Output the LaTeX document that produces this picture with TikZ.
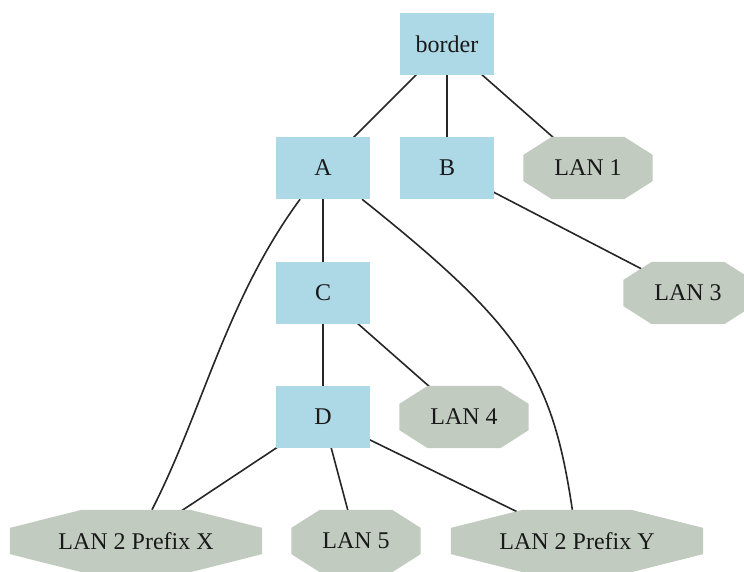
\documentclass[tikz,border=0pt]{standalone}
\usepackage{fontspec}
\setmainfont{Liberation Serif}
\usetikzlibrary{calc}
\definecolor{boxblue}{RGB}{173,216,230}
\definecolor{langray}{RGB}{193,203,192}
\pgfdeclarelayer{edges}
\pgfdeclarelayer{shapes}
\pgfsetlayers{edges,shapes,main}
\begin{document}
\begin{tikzpicture}[x=1pt,y=-1pt,
  every node/.style={font=\fontsize{24}{28}\selectfont, text=black!90},
  router/.style={rectangle, fill=boxblue, minimum width=94pt, minimum height=62pt, inner sep=0pt},
  lan/.style={rectangle, minimum width=129pt, minimum height=62pt, inner sep=0pt},
  widelan/.style={lan, minimum width=252pt},
  link/.style={line width=1.6pt, black!85}]
\useasboundingbox (0,0) rectangle (744,571);
% routers
\node[router] (border) at (447,44) {border};
\node[router] (A) at (323,168) {A};
\node[router] (B) at (447,168) {B};
\node[router] (C) at (323,293) {C};
\node[router] (D) at (323,417) {D};
% LANs
\node[lan] (lan1) at (588,168) {LAN 1};
\node[lan] (lan3) at (688,293) {LAN 3};
\node[lan] (lan4) at (464,417) {LAN 4};
\node[lan] (lan5) at (356,541) {LAN 5};
\node[widelan] (px) at (136,541) {LAN 2 Prefix X};
\node[widelan] (py) at (577,541) {LAN 2 Prefix Y};
% octagon fills (name / horizontal inset fraction)
\begin{pgfonlayer}{shapes}
\foreach \n/\f in {lan1/0.22,lan3/0.22,lan4/0.22,lan5/0.22,px/0.285,py/0.285}{
  \pgfmathsetmacro{\g}{1-\f}
  \fill[langray] ($(\n.north west)!\f!(\n.north east)$) -- ($(\n.north west)!\g!(\n.north east)$)
    -- ($(\n.north east)!0.29!(\n.south east)$) -- ($(\n.north east)!0.71!(\n.south east)$)
    -- ($(\n.south west)!\g!(\n.south east)$) -- ($(\n.south west)!\f!(\n.south east)$)
    -- ($(\n.north west)!0.71!(\n.south west)$) -- ($(\n.north west)!0.29!(\n.south west)$) -- cycle;
}
\end{pgfonlayer}
% connectors
\begin{pgfonlayer}{edges}
\draw[link] (border.center) -- (A.center);
\draw[link] (border.center) -- (B.center);
\draw[link] (border.center) -- (lan1.center);
\draw[link] (B.center) -- (lan3.center);
\draw[link] (A.center) -- (C.center);
\draw[link] (C.center) -- (D.center);
\draw[link] (C.center) -- (lan4.center);
\draw[link] (D.center) -- (px.center);
\draw[link] (D.center) -- (lan5.center);
\draw[link] (D.center) -- (py.center);
\draw[link] (A) .. controls (226,300) and (203,410) .. (px);
\draw[link] (A) .. controls (522,327) and (552,374) .. (py);
\end{pgfonlayer}
\end{tikzpicture}
\end{document}
